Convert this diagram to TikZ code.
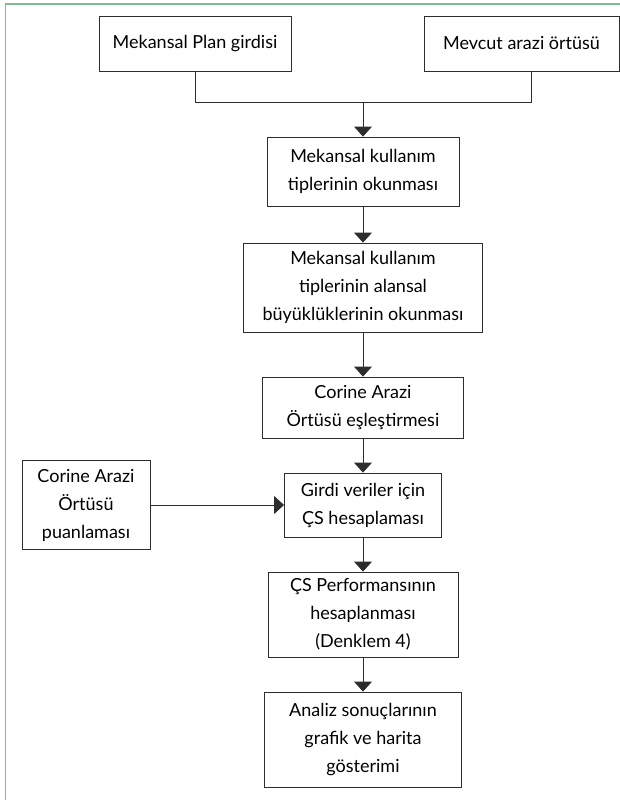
\documentclass[tikz,border=0pt]{standalone}
\usepackage{fontspec}
\setmainfont{Lato}
\usetikzlibrary{arrows.meta}
\definecolor{framegreen}{RGB}{125,190,150}
\definecolor{boxgray}{RGB}{45,45,45}

\begin{document}
\begin{tikzpicture}[x=1pt,y=-1pt,
	box/.style={draw=boxgray,line width=0.9pt,align=center,inner sep=0pt,font=\fontsize{18}{28}\selectfont},
	link/.style={draw=boxgray,line width=0.9pt},
	arr/.style={link,-{Triangle[width=18pt,length=10pt]}}]
	\useasboundingbox (0,0) rectangle (620,800);
	\draw[framegreen,line width=1.5pt] (5.5,800) -- (5.5,4) -- (620,4);

	\node[box,minimum width=192pt,minimum height=55pt] (plan) at (195,43.5) {Mekansal Plan girdisi};
	\node[box,minimum width=195pt,minimum height=55pt] (mevcut) at (521.5,43.5) {Mevcut arazi örtüsü};
	\node[box,minimum width=192pt,minimum height=69pt] (okuma) at (363,171.5) {Mekansal kullanım\\tiplerinin okunması};
	\node[box,minimum width=239pt,minimum height=89pt] (alan) at (363,287.5) {Mekansal kullanım\\tiplerinin alansal\\büyüklüklerinin okunması};
	\node[box,minimum width=201pt,minimum height=61pt] (esle) at (363,407.5) {Corine Arazi\\Örtüsü eşleştirmesi};
	\node[box,minimum width=128pt,minimum height=89pt] (puan) at (86,505) {Corine Arazi\\Örtüsü\\puanlaması};
	\node[box,minimum width=157pt,minimum height=64pt] (girdi) at (363,505) {Girdi veriler için\\ÇS hesaplaması};
	\node[box,minimum width=190pt,minimum height=85pt] (perf) at (363,614.5) {ÇS Performansının\\hesaplanması\\(Denklem 4)};
	\node[box,minimum width=197pt,minimum height=95pt] (analiz) at (363,739.5) {Analiz sonuçlarının\\grafik ve harita\\gösterimi};

	\coordinate (join) at (363,102);
	\coordinate (mtap) at (531,102);
	\draw[link] (plan.south) |- (join);
	\draw[link] (mevcut.south -| mtap) -- (mtap) -- (join);
	\draw[arr] (join) -- (okuma.north);
	\draw[arr] (okuma) -- (alan);
	\draw[arr] (alan) -- (esle);
	\draw[arr] (esle) -- (girdi);
	\draw[arr] (puan) -- (girdi);
	\draw[arr] (girdi) -- (perf);
	\draw[arr] (perf) -- (analiz);
\end{tikzpicture}
\end{document}
